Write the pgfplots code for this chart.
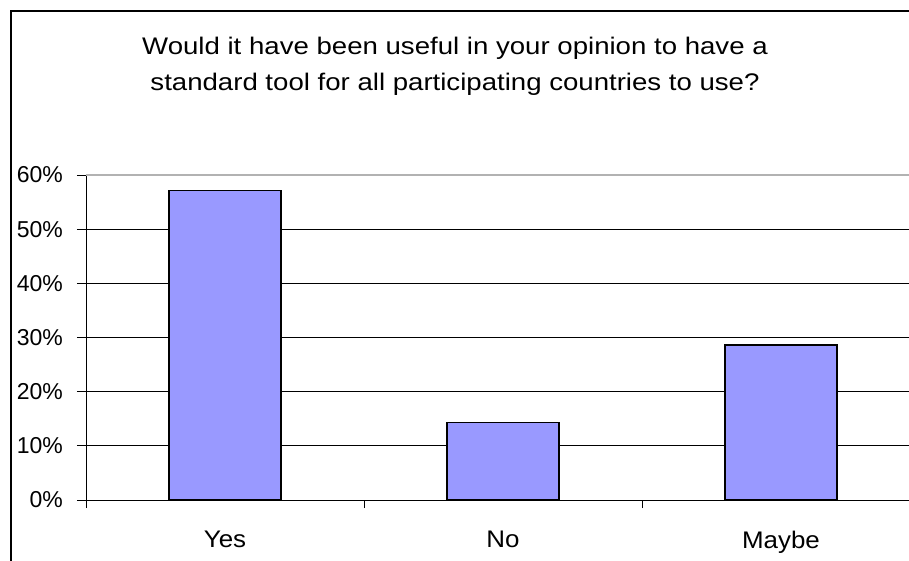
\documentclass[border=0pt]{standalone}
\usepackage{pgfplots}
\pgfplotsset{compat=1.18}
\usepackage{fontspec}
\setmainfont{Liberation Sans}
\definecolor{barblue}{HTML}{9999FF}
\begin{document}
\begin{tikzpicture}[x=1pt,y=1pt]
\useasboundingbox (0,0) rectangle (909,560);
\clip (0,0) rectangle (909,560);
\draw[line width=2pt] (11,-20) -- (11,549) -- (940,549);
\node[align=center, xscale=1.15, font=\fontsize{24}{36}\selectfont] at (455,494) {Would it have been useful in your opinion to have a\\standard tool for all participating countries to use?};
\begin{axis}[
  at={(86pt,60pt)}, anchor=south west,
  scale only axis, width=834pt, height=325pt,
  xmin=-0.5, xmax=2.5, ymin=0, ymax=60,
  axis lines*=left,
  axis line style={black, line width=1pt},
  ytick={0,10,...,50}, extra y ticks={60},
  /pgf/number format/assume math mode=true,
  yticklabel={\pgfmathprintnumber{\tick}\%},
  extra y tick style={major grid style={gray!60, line width=1.6pt}},
  ymajorgrids, major grid style={black, line width=1pt},
  tick align=outside, major tick length=9pt, minor tick length=8pt,
  xtick={0,1,2}, xticklabels={Yes,No,Maybe},
  minor xtick={-0.5,0.5,1.5},
  major x tick style={draw=none},
  minor x tick style={black, line width=1pt},
  y tick style={black, line width=1pt},
  yticklabel style={font=\fontsize{23}{27}\selectfont, anchor=east, inner sep=0pt, xshift=-14pt},
  xticklabel style={font=\fontsize{24}{28}\selectfont, xscale=1.08, anchor=north, inner sep=0pt, yshift=-22pt},
  ybar, bar width=112pt,
  clip=false,
]
\addplot[fill=barblue, draw=black, line width=1.2pt] coordinates {(0,57.1) (1,14.3) (2,28.6)};
\end{axis}
\end{tikzpicture}
\end{document}
